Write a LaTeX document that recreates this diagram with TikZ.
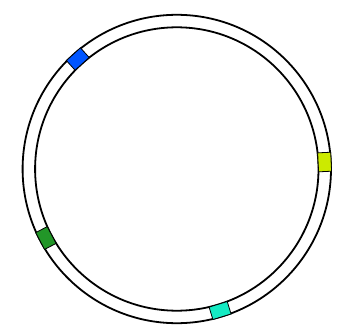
\documentclass[tikz,border=0pt]{standalone}
\usepackage{tikz}
\usetikzlibrary{calc}
\definecolor{mkblue}{RGB}{0,85,255}
\definecolor{mkyellow}{RGB}{204,234,0}
\definecolor{mkgreen}{RGB}{34,150,40}
\definecolor{mkcyan}{RGB}{20,235,195}
\tikzset{
  ring/.style={draw=black, line width=1.8bp},
  marker/.style={draw=black, line width=0.8bp, rectangle, inner sep=0pt,
    minimum width=13bp, minimum height=19bp},
}
\begin{document}
\begin{tikzpicture}[x=1bp,y=1bp]
\useasboundingbox (0,0) rectangle (341,328);
\coordinate (c) at (176.8,159);
\draw[ring] (c) circle[radius=154.2bp];
\draw[ring] (c) circle[radius=141.7bp];
\node[marker, fill=mkblue, rotate=132] (m1) at ($(c)+(132:148)$) {};
\node[marker, fill=mkyellow, rotate=2.7] (m2) at ($(c)+(2.7:148)$) {};
\node[marker, fill=mkgreen, rotate=207.8] (m3) at ($(c)+(207.8:148)$) {};
\node[marker, fill=mkcyan, rotate=287] (m4) at ($(c)+(287:148)$) {};
\end{tikzpicture}
\end{document}
